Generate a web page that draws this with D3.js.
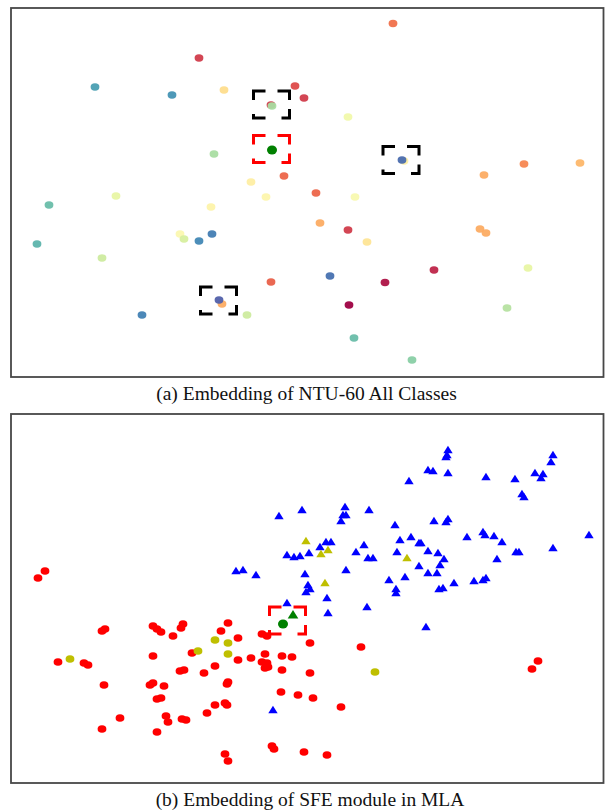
<!DOCTYPE html>
<html>
<head>
<meta charset="utf-8">
<script src="https://cdn.jsdelivr.net/npm/d3@7"></script>
<style>
body{margin:0;background:#fff}
</style>
</head>
<body>
<div id="chart"></div>
<script>
// (a) all NTU-60 classes : [x, y, class value on the Spectral map]
var allClasses = [
	[8.6,16.9,0.2],[-10.8,13.45,0.1],[-21.2,10.55,0.86],[-13.5,9.75,0.88],[-8.3,10.25,0.4],
	[-1.2,10.65,0.13],[-0.3,9.45,0.1],[-3.6,8.75,0.1],[-3.5,8.65,0.7],[-9.3,3.85,0.7],
	[-2.3,1.65,0.18],[-5.6,1.05,0.45],[-19.1,-0.35,0.58],[-4.1,-0.45,0.48],[4.1,7.55,0.55],
	[9.7,3.15,0.45],[9.5,3.25,0.95],[17.7,1.75,0.3],[21.7,2.85,0.24],[27.3,2.95,0.32],
	[0.9,-0.05,0.18],[4.8,-0.45,0.52],[-25.8,-1.25,0.8],[-9.6,-1.45,0.47],[-12.7,-4.15,0.5],
	[-12.3,-4.65,0.62],[-10.8,-4.85,0.9],[-9.5,-4.15,0.92],[-27.0,-5.15,0.82],[-20.5,-6.55,0.64],
	[-3.6,-8.95,0.17],[-8.5,-11.15,0.3],[-8.8,-10.75,0.97],[-16.5,-12.25,0.91],[-6.0,-12.25,0.64],
	[1.3,-3.05,0.3],[4.1,-3.75,0.1],[6.0,-4.95,0.42],[17.3,-3.65,0.3],[17.9,-4.05,0.3],
	[2.3,-8.35,0.94],[7.8,-9.0,0.03],[12.7,-7.75,0.06],[22.1,-7.55,0.58],[4.2,-11.25,0.0],
	[20.0,-11.55,0.68],[4.7,-14.55,0.8],[10.5,-16.75,0.75]
]
var queryA = [[-3.5,4.25]]
var blackBoxesA = [[-3.55,8.8],[9.4,3.25],[-8.85,-10.8]]
var redBoxesA = [[-3.55,4.35]]

// (b) SFE module in MLA
var redDots = [
	[-26.2,2.75],[-26.9,2.05],[-20.5,-3.25],[-20.2,-3.05],[-15.4,-2.75],[-15.0,-3.05],[-14.6,-3.35],
	[-13.4,-3.75],[-12.4,-2.55],[-12.6,-2.95],[-7.9,-2.45],[-8.6,-3.25],[-6.9,-3.95],[-4.5,-3.55],
	[-4.0,-3.75],[-11.5,-5.45],[-15.4,-5.75],[-24.9,-6.35],[-22.3,-6.45],[-21.9,-6.65],[-12.7,-7.25],
	[-12.3,-7.15],[-10.3,-7.45],[-9.2,-6.75],[-6.9,-6.15],[-5.6,-5.95],[-4.2,-5.55],[-4.5,-6.35],
	[-4.0,-6.45],[-4.2,-6.95],[-3.9,-6.85],[-2.5,-5.75],[-1.5,-5.85],[-2.5,-7.15],[0.3,-4.45],
	[5.4,-4.85],[0.3,-7.45],[23.1,-6.25],[22.5,-7.05],[-0.9,-9.65],[0.6,-9.95],[3.4,-10.85],
	[-7.9,-8.35],[-8.0,-8.55],[-20.3,-8.65],[-15.7,-8.65],[-15.4,-8.45],[-14.3,-8.75],[-15.0,-10.05],
	[-14.6,-9.95],[-2.6,-9.35],[-9.2,-10.65],[-8.2,-10.45],[-8.0,-10.65],[-10.0,-11.45],[-14.1,-11.75],
	[-13.9,-12.35],[-12.5,-12.05],[-12.1,-12.15],[-18.7,-11.95],[-20.5,-13.05],[-15.0,-13.35],
	[-3.5,-14.75],[-3.3,-15.05],[-0.3,-15.35],[2.0,-15.65],[-8.2,-15.55],[-7.9,-16.25]
]
var yellowDots = [[-23.7,-6.05],[-9.2,-4.15],[-7.9,-4.45],[-10.9,-5.25],[-7.9,-5.55],[6.8,-7.35]]
var blueTris = [
	[14.1,14.85],[14.0,14.35],[13.9,14.15],[12.1,12.85],[12.6,12.75],[14.1,12.55],[10.2,11.75],
	[17.9,12.15],[20.8,11.95],[24.6,14.35],[24.4,13.65],[22.8,12.55],[23.6,12.45],[23.4,12.05],
	[21.7,10.15],[21.5,10.45],[-2.8,8.25],[-0.5,8.85],[3.8,9.15],[3.6,8.35],[3.9,8.35],[3.4,7.75],
	[6.2,8.85],[8.8,7.35],[12.7,7.75],[13.9,7.65],[14.1,7.95],[1.9,5.65],[2.4,5.65],[1.3,5.15],
	[-2.0,4.35],[-1.3,4.15],[-0.7,4.25],[0.2,4.55],[4.9,4.65],[5.7,5.35],[6.1,4.05],[6.6,4.05],
	[-7.1,2.75],[-6.4,2.85],[-5.1,2.35],[-0.2,2.45],[3.9,2.85],[0.1,1.35],[0.3,0.95],[-0.1,0.65],
	[2.0,0.05],[-2.0,-0.45],[2.1,-1.45],[6.0,-0.85],[11.9,-2.85],[9.3,5.85],[10.4,6.15],[11.2,5.55],
	[11.4,5.55],[12.1,4.75],[13.1,4.55],[13.7,3.95],[13.3,3.35],[11.2,3.25],[12.1,2.55],[13.0,2.55],
	[9.0,4.65],[9.8,2.15],[8.2,1.85],[8.9,0.95],[8.9,0.55],[13.2,0.95],[13.6,1.05],[14.7,1.55],
	[16.0,6.15],[17.6,6.65],[17.8,6.35],[18.7,6.25],[19.5,5.65],[20.9,4.65],[21.2,4.65],[19.0,3.95],
	[16.7,1.75],[17.6,1.85],[17.9,2.05],[24.6,5.05],[28.2,6.35],[-3.4,-11.15]
]
var yellowTris = [[-0.1,5.75],[2.1,4.85],[1.4,4.45],[1.8,1.55],[10.0,4.05]]
var queryDotB = [[-2.4,-2.55]]
var queryTriB = [[-1.4,-1.65]]
var redBoxesB = [[-1.95,-2.2]]

var captions = ["(a) Embedding of NTU-60 All Classes", "(b) Embedding of SFE module in MLA"]

var svg = d3.select("#chart").append("svg")
	.attr("width", 605)
	.attr("height", 811)

var x = d3.scaleLinear().domain([-29.6, 29.65]).range([11, 603.5])
var yA = d3.scaleLinear().domain([-18.45, 18.45]).range([377, 8])
var yB = d3.scaleLinear().domain([-18.45, 18.45]).range([783, 414])

var tri = "M0,-4.3L4.7,3.2L-4.7,3.2Z"
var bigTri = "M0,-5L5.3,3.6L-5.3,3.6Z"

function frame(y){
	svg.append("rect")
		.attr("x", x.range()[0])
		.attr("y", y.range()[1])
		.attr("width", x.range()[1] - x.range()[0])
		.attr("height", y.range()[0] - y.range()[1])
		.attr("fill", "none")
		.attr("stroke", "#474747")
		.attr("stroke-width", 1.8)
}

// dashed box drawn as four corner brackets
function boxes(list, y, colour){
	var w = 18, h = 13.5, aw = 12, ah = 9
	list.forEach(function(b){
		var cx = x(b[0]), cy = y(b[1])
		var p = "M" + (cx-w+aw) + "," + (cy-h) + "H" + (cx-w) + "V" + (cy-h+ah)
			+ "M" + (cx+w-aw) + "," + (cy-h) + "H" + (cx+w) + "V" + (cy-h+ah)
			+ "M" + (cx-w+aw) + "," + (cy+h) + "H" + (cx-w) + "V" + (cy+h-ah+5)
			+ "M" + (cx+w-aw+4) + "," + (cy+h) + "H" + (cx+w) + "V" + (cy+h-ah)
		svg.append("path")
			.attr("d", p)
			.attr("fill", "none")
			.attr("stroke", colour)
			.attr("stroke-width", 3)
	})
}

function dots(list, y, colour, rx, ry){
	svg.append("g").selectAll("ellipse")
		.data(list)
		.enter().append("ellipse")
		.attr("cx", function(d){ return x(d[0]) })
		.attr("cy", function(d){ return y(d[1]) })
		.attr("rx", rx)
		.attr("ry", ry)
		.attr("fill", colour)
}

function tris(list, y, colour, shape){
	svg.append("g").selectAll("path")
		.data(list)
		.enter().append("path")
		.attr("d", shape)
		.attr("transform", function(d){ return "translate(" + x(d[0]) + "," + y(d[1]) + ")" })
		.attr("fill", colour)
}

/* panel a */
frame(yA)
svg.append("g").selectAll("ellipse")
	.data(allClasses)
	.enter().append("ellipse")
	.attr("cx", function(d){ return x(d[0]) })
	.attr("cy", function(d){ return yA(d[1]) })
	.attr("rx", 4.4)
	.attr("ry", 3.7)
	.attr("fill", function(d){ return d3.interpolateSpectral(d[2]) })
	.attr("fill-opacity", 0.95)
dots(queryA, yA, "#008000", 5, 4.6)
boxes(blackBoxesA, yA, "#000")
boxes(redBoxesA, yA, "#ff0000")

/* panel b */
frame(yB)
dots(redDots, yB, "#ff0000", 4.4, 3.8)
tris(blueTris, yB, "#0000ff", tri)
dots(yellowDots, yB, "#bfbf00", 4.4, 3.8)
tris(yellowTris, yB, "#bfbf00", tri)
dots(queryDotB, yB, "#008000", 5, 4.6)
tris(queryTriB, yB, "#008000", bigTri)
boxes(redBoxesB, yB, "#ff0000")

svg.selectAll("text.cap")
	.data(captions)
	.enter().append("text")
	.attr("class", "cap")
	.attr("x", function(d, i){ return i == 0 ? 306.5 : 310 })
	.attr("y", function(d, i){ return i == 0 ? 400 : 806 })
	.attr("text-anchor", "middle")
	.attr("font-family", "Liberation Serif, Times New Roman, serif")
	.attr("font-size", 19.5)
	.attr("fill", "#111")
	.text(function(d){ return d })
</script>
</body>
</html>
